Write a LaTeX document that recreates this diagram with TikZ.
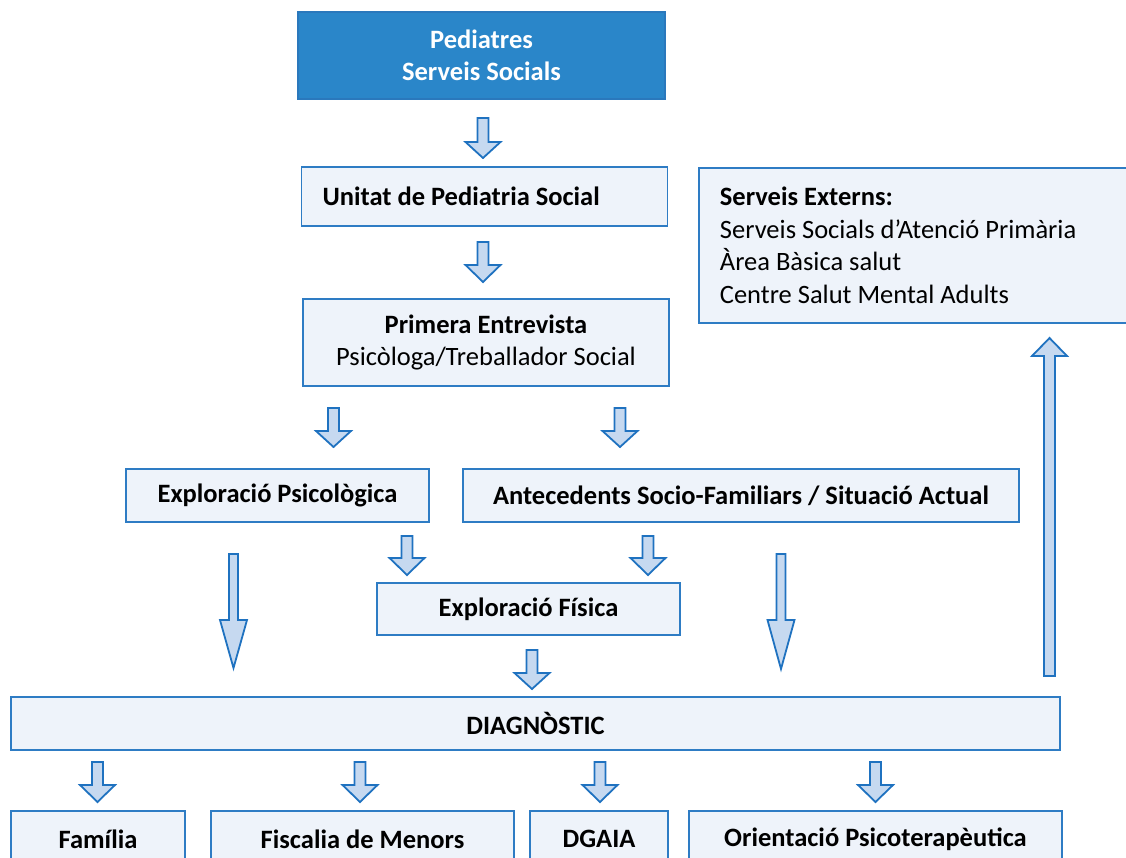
\documentclass[tikz,border=0pt]{standalone}
\usepackage{fontspec}
\setmainfont{Carlito}
\definecolor{boxfill}{HTML}{EEF3FA}
\definecolor{boxline}{HTML}{2E7CC4}
\definecolor{arrfill}{HTML}{C6D9F0}
\definecolor{arrline}{HTML}{1F72C0}
\definecolor{topfill}{HTML}{2A86C9}
\definecolor{topline}{HTML}{2A78BC}
\newcommand{\blockarr}[6]{%
  \draw[blockarrow] (#1-#5,#2) -- (#1+#5,#2) -- (#1+#5,#3) -- (#1+#6,#3) -- (#1,#4) -- (#1-#6,#3) -- (#1-#5,#3) -- cycle;}
\newcommand{\fsz}{\fontsize{26.5}{32.5}\selectfont}
\tikzset{
  box/.style={rectangle, draw=boxline, fill=boxfill, line width=1.8pt, inner sep=0pt,
    font=\fsz, align=center},
  boldbox/.style={box, font=\fsz\bfseries},
  blockarrow/.style={draw=arrline, fill=arrfill, line width=1.8pt, line join=miter},
}
\begin{document}
\begin{tikzpicture}[x=1pt,y=-1pt]
\useasboundingbox (0,0) rectangle (1126,858);
\clip (0,0) rectangle (1126,858);
% boxes
\node[box, draw=topline, fill=topfill, text=white, font=\fontsize{26.5}{32}\selectfont\bfseries,
  minimum width=367pt, minimum height=87pt] (ped) at (481.5,55.5) {Pediatres\\Serveis Socials};
\node[box, minimum width=366pt, minimum height=59pt, align=flush left, text width=324pt, inner xsep=21pt]
  (unitat) at (484.5,196.5) {\bfseries Unitat de Pediatria Social};
\node[box, minimum width=366pt, minimum height=87pt] (primera) at (486,342.5)
  {\textbf{Primera Entrevista}\\Psicòloga/Treballador Social};
\node[box, anchor=north west, minimum width=432pt, minimum height=155pt, align=flush left,
  text width=390pt, inner xsep=21pt] (ext) at (698,167)
  {\textbf{Serveis Externs:}\\Serveis Socials d’Atenció Primària\\Àrea Bàsica salut\\Centre Salut Mental Adults};
\node[boldbox, minimum width=303pt, minimum height=53pt] (psic) at (277.5,495.5) {Exploració Psicològica};
\node[boldbox, minimum width=556pt, minimum height=53pt] (ante) at (741,495.5) {Antecedents Socio-Familiars / Situació Actual};
\node[boldbox, minimum width=303pt, minimum height=52pt] (fis) at (528.5,609) {Exploració Física};
\node[boldbox, minimum width=1049pt, minimum height=53pt] (diag) at (535.5,723.5) {DIAGNÒSTIC};
\node[boldbox, anchor=north, minimum width=174pt, minimum height=56pt] (fam) at (98,810) {Família};
\node[boldbox, anchor=north, minimum width=303pt, minimum height=56pt] (fisc) at (362.5,810) {Fiscalia de Menors};
\node[boldbox, anchor=north, minimum width=138pt, minimum height=56pt] (dgaia) at (599,810) {DGAIA};
\node[boldbox, anchor=north, minimum width=373pt, minimum height=56pt] (orient) at (875.5,810) {Orientació Psicoterapèutica};
% block arrows
\blockarr{483}{118}{142}{158}{5.5}{17.5}
\blockarr{483}{242}{265}{282}{5.5}{17.5}
\blockarr{333.5}{408}{431}{447}{5.5}{17.5}
\blockarr{620}{408}{431}{447}{5.5}{17.5}
\blockarr{407}{536}{558}{575}{5.5}{17.5}
\blockarr{648}{536}{558}{575}{5.5}{17.5}
\blockarr{532}{650}{673}{689}{5.5}{17.5}
\blockarr{233.5}{554}{620}{668}{4.5}{13.5}
\blockarr{781}{554}{620}{669}{4.5}{13.5}
\blockarr{1049.5}{676}{356}{338}{5.5}{17.5}
\blockarr{97.5}{762}{785}{802}{5.5}{17.5}
\blockarr{360}{762}{785}{802}{5.5}{17.5}
\blockarr{600}{762}{785}{802}{5.5}{17.5}
\blockarr{875.5}{762}{785}{802}{5.5}{17.5}
\end{tikzpicture}
\end{document}
